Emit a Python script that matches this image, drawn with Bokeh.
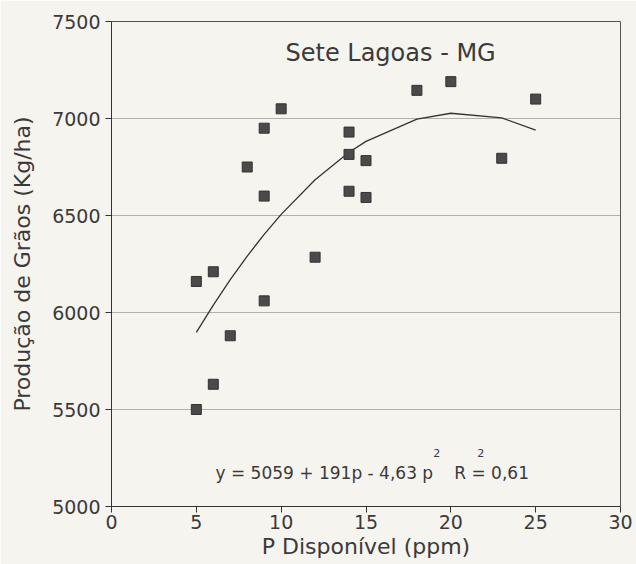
from bokeh.plotting import figure
from bokeh.models import Range1d, Label, FixedTicker
from bokeh.embed import file_html
from bokeh.resources import INLINE

# Observed data (P disponível, ppm ; produção de grãos, kg/ha)
p_obs = [5, 6, 7, 9, 5, 6, 12, 9, 8, 9, 10, 14, 15, 14, 15, 14, 18, 20, 23, 25]
yield_obs = [5500, 5630, 5880, 6060, 6160, 6210, 6285, 6600, 6750, 6950,
             7050, 6625, 6593, 6815, 6783, 6930, 7145, 7190, 6795, 7100]

# Fitted curve as drawn in the figure
fit_p = [5, 6, 7, 8, 9, 10, 12, 14, 15, 18, 20, 23, 25]
fit_y = [5898, 6038, 6169, 6291, 6403, 6506, 6684, 6826, 6882, 6997, 7027, 7003, 6940]

x_ticks = [0, 5, 10, 15, 20, 25, 30]
y_ticks = [5000, 5500, 6000, 6500, 7000, 7500]

title_text = "Sete Lagoas - MG"
eq_text = "y = 5059 + 191p - 4,63 p"
r2_text = "R = 0,61"
x_label = "P Disponível (ppm)"
y_label = "Produção de Grãos (Kg/ha)"

FONT = "DejaVu Sans"
TXT = "#3a3a3a"
BG = "#f6f4ee"

p = figure(width=636, height=564, output_backend="svg", toolbar_location=None,
           x_range=Range1d(0, 30), y_range=Range1d(5000, 7500),
           min_border_left=111, min_border_right=16, min_border_top=21,
           min_border_bottom=58)
p.background_fill_color = BG
p.border_fill_color = BG
p.outline_line_color = "#555555"
p.outline_line_width = 1

p.xgrid.grid_line_color = None
p.ygrid.grid_line_color = "#6f6f6f"
p.ygrid.grid_line_dash = "1 1"
p.ygrid.grid_line_width = 1

p.xaxis.ticker = FixedTicker(ticks=x_ticks)
p.yaxis.ticker = FixedTicker(ticks=y_ticks)
for ax in (p.xaxis[0], p.yaxis[0]):
    ax.axis_line_color = "#333333"
    ax.major_tick_line_color = "#333333"
    ax.minor_tick_line_color = None
    ax.major_tick_in = 0
    ax.major_label_text_font = FONT
    ax.major_label_text_font_size = "19px"
    ax.major_label_text_color = TXT
    ax.axis_label_text_font = FONT
    ax.axis_label_text_font_style = "normal"
    ax.axis_label_text_color = TXT
p.xaxis.major_tick_out = 6
p.xaxis.major_label_standoff = 2
p.yaxis.major_tick_out = 6
p.yaxis.major_label_standoff = 5

p.xaxis.axis_label = x_label
p.xaxis.axis_label_text_font_size = "22px"
p.xaxis.axis_label_standoff = 2
p.yaxis.axis_label = y_label
p.yaxis.axis_label_text_font_size = "22px"
p.yaxis.axis_label_standoff = 14

p.line(fit_p, fit_y, line_color="#333333", line_width=1.3)
p.scatter(p_obs, yield_obs, marker="square", size=10,
          fill_color="#4a4a4a", line_color="#333333", line_width=1)

p.add_layout(Label(x=16.45, y=7340, text=title_text, text_align="center",
                   text_baseline="alphabetic", text_font=FONT,
                   text_font_size="24px", text_color=TXT))
p.add_layout(Label(x=6.13, y=5175, text=eq_text, text_align="left",
                   text_baseline="alphabetic", text_font=FONT,
                   text_font_size="17px", text_color=TXT))
p.add_layout(Label(x=20.2, y=5175, text=r2_text, text_align="left",
                   text_baseline="alphabetic", text_font=FONT,
                   text_font_size="17px", text_color=TXT))
p.add_layout(Label(x=18.97, y=5278, text="2", text_align="left",
                   text_baseline="alphabetic", text_font=FONT,
                   text_font_size="11px", text_color=TXT))
p.add_layout(Label(x=21.55, y=5278, text="2", text_align="left",
                   text_baseline="alphabetic", text_font=FONT,
                   text_font_size="11px", text_color=TXT))

open("out.html", "w").write(file_html(p, INLINE))
